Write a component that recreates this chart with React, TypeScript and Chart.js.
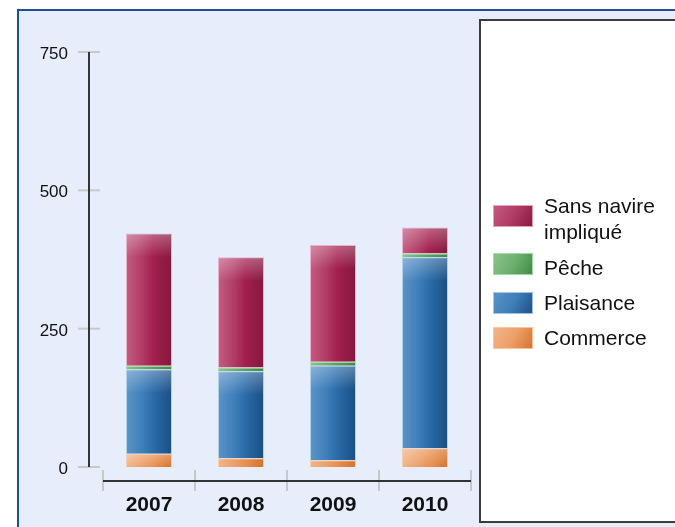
import React, { useEffect, useRef } from "react";
import { Chart, registerables } from "chart.js";

Chart.register(...registerables);

const categories = ["2007", "2008", "2009", "2010"];
const commerce = [24, 16, 12, 34];
const plaisance = [152, 157, 171, 345];
const peche = [7, 7, 7, 7];
const sansNavire = [239, 199, 211, 47];
const yTicks = [0, 250, 500, 750];
const legendLabels = [["Sans navire", "impliqué"], ["Pêche"], ["Plaisance"], ["Commerce"]];

const FONT = "'Liberation Sans', Arial, sans-serif";

// gradient stops: light -> dark
const palettes: Record<string, string[]> = {
  sans: ["#C45C82", "#B13C66", "#A21E4E", "#84183D"],
  peche: ["#8CC48A", "#6DB06E", "#5AA05C", "#3E8A45"],
  plaisance: ["#5C94C7", "#3F7FBA", "#2A6BA8", "#1B4E82"],
  commerce: ["#F2B588", "#EDA06A", "#E98F4F", "#D6712C"],
};
const borders: Record<string, string> = {
  sans: "rgba(235,170,195,0.9)",
  peche: "rgba(170,220,170,0.9)",
  plaisance: "rgba(170,205,235,0.9)",
  commerce: "rgba(250,200,165,0.9)",
};

function barGradient(key: string) {
  return (ctx: any) => {
    const chart = ctx.chart;
    const pal = palettes[key];
    const xs = chart.scales && chart.scales.x;
    if (!xs || ctx.dataIndex === undefined || !chart.chartArea) return pal[2];
    const cx = xs.getPixelForValue(ctx.dataIndex);
    const half = (xs.width / categories.length) * 0.5 / 2;
    const g = chart.ctx.createLinearGradient(cx - half, 0, cx + half, 0);
    g.addColorStop(0, pal[0]);
    g.addColorStop(0.35, pal[1]);
    g.addColorStop(0.6, pal[2]);
    g.addColorStop(1, pal[3]);
    return g;
  };
}

const decor = {
  id: "decor",
  beforeDraw(chart: any) {
    const c = chart.ctx;
    c.save();
    c.fillStyle = "#FFFFFF";
    c.fillRect(0, 0, chart.width, chart.height);
    c.fillStyle = "#E6EEFC";
    c.fillRect(18, 10, 700, 600);
    c.strokeStyle = "#1F4F95";
    c.lineWidth = 2;
    c.beginPath();
    c.moveTo(18, 700);
    c.lineTo(18, 10);
    c.lineTo(700, 10);
    c.stroke();
    // legend box
    c.fillStyle = "#FFFFFF";
    c.fillRect(480, 20, 300, 502);
    c.strokeStyle = "#3C3C3C";
    c.lineWidth = 2;
    c.strokeRect(480, 20, 300, 502);
    c.restore();
  },
  afterDatasetsDraw(chart: any) {
    const c = chart.ctx;
    const ys = chart.scales.y;
    const xs = chart.scales.x;
    c.save();
    // gloss on top of segments
    chart.data.datasets.forEach((ds: any, di: number) => {
      const meta = chart.getDatasetMeta(di);
      meta.data.forEach((el: any) => {
        const top = Math.min(el.y, el.base);
        const h = Math.abs(el.base - el.y);
        if (h < 10) return;
        const gh = Math.min(24, h);
        const left = el.x - el.width / 2;
        const g = c.createLinearGradient(0, top, 0, top + gh);
        g.addColorStop(0, "rgba(255,255,255,0.3)");
        g.addColorStop(1, "rgba(255,255,255,0)");
        c.fillStyle = g;
        c.fillRect(left + 1, top + 1, el.width - 2, gh);
      });
    });

    // y axis
    const axX = 89;
    c.strokeStyle = "#C8C8C8";
    c.lineWidth = 2;
    yTicks.forEach((t) => {
      const y = ys.getPixelForValue(t);
      c.beginPath();
      c.moveTo(78, y);
      c.lineTo(100, y);
      c.stroke();
    });
    c.strokeStyle = "#333333";
    c.lineWidth = 2;
    c.beginPath();
    c.moveTo(axX, ys.getPixelForValue(750));
    c.lineTo(axX, ys.getPixelForValue(0));
    c.stroke();
    c.fillStyle = "#111111";
    c.font = `17px ${FONT}`;
    c.textAlign = "right";
    c.textBaseline = "alphabetic";
    yTicks.forEach((t) => {
      const y = ys.getPixelForValue(t);
      c.fillText(String(t), 68, y + 7);
    });

    // x axis
    const axY = 481;
    const catW = xs.width / categories.length;
    c.strokeStyle = "#C8C8C8";
    c.lineWidth = 2;
    for (let i = 0; i <= categories.length; i++) {
      const x = xs.left + i * catW;
      c.beginPath();
      c.moveTo(x, 470);
      c.lineTo(x, 491);
      c.stroke();
    }
    c.strokeStyle = "#333333";
    c.lineWidth = 2;
    c.beginPath();
    c.moveTo(xs.left, axY);
    c.lineTo(xs.right, axY);
    c.stroke();
    c.fillStyle = "#111111";
    c.font = `bold 21px ${FONT}`;
    c.textAlign = "center";
    categories.forEach((lab, i) => {
      c.fillText(lab, xs.getPixelForValue(i), 511);
    });

    // legend
    const items = [
      { key: "sans", sw: 205, base: [213, 239] },
      { key: "peche", sw: 253, base: [275] },
      { key: "plaisance", sw: 292, base: [310] },
      { key: "commerce", sw: 327, base: [345] },
    ];
    c.font = `21px ${FONT}`;
    c.textAlign = "left";
    items.forEach((it, i) => {
      const pal = palettes[it.key];
      const g = c.createLinearGradient(493, it.sw, 533, it.sw + 22);
      g.addColorStop(0, pal[0]);
      g.addColorStop(0.5, pal[1]);
      g.addColorStop(1, pal[3]);
      c.fillStyle = g;
      c.fillRect(493, it.sw, 40, 22);
      c.strokeStyle = borders[it.key];
      c.lineWidth = 1;
      c.strokeRect(493.5, it.sw + 0.5, 39, 21);
      c.fillStyle = "#111111";
      legendLabels[i].forEach((line, li) => {
        c.fillText(line, 544, it.base[li]);
      });
    });
    c.restore();
  },
};

export default function App() {
  const ref = useRef<HTMLCanvasElement>(null);
  useEffect(() => {
    if (!ref.current) return;
    const mk = (label: string, data: number[], key: string) => ({
      label,
      data,
      backgroundColor: barGradient(key),
      borderColor: borders[key],
      borderWidth: 1,
      barPercentage: 0.5,
      categoryPercentage: 1,
    });
    const chart = new Chart(ref.current, {
      type: "bar",
      data: {
        labels: categories,
        datasets: [
          mk("Commerce", commerce, "commerce"),
          mk("Plaisance", plaisance, "plaisance"),
          mk("Pêche", peche, "peche"),
          mk("Sans navire impliqué", sansNavire, "sans"),
        ],
      },
      options: {
        responsive: false,
        animation: false,
        layout: { padding: { left: 103, right: 204, top: 52, bottom: 60 } },
        plugins: { legend: { display: false }, tooltip: { enabled: false } },
        scales: {
          x: { stacked: true, display: false, offset: true },
          y: { stacked: true, display: false, min: 0, max: 750 },
        },
      },
      plugins: [decor],
    });
    return () => chart.destroy();
  }, []);
  return (
    <div style={{ position: "absolute", left: 0, top: 0, width: 675, height: 527 }}>
      <canvas ref={ref} width={675} height={527} />
    </div>
  );
}
